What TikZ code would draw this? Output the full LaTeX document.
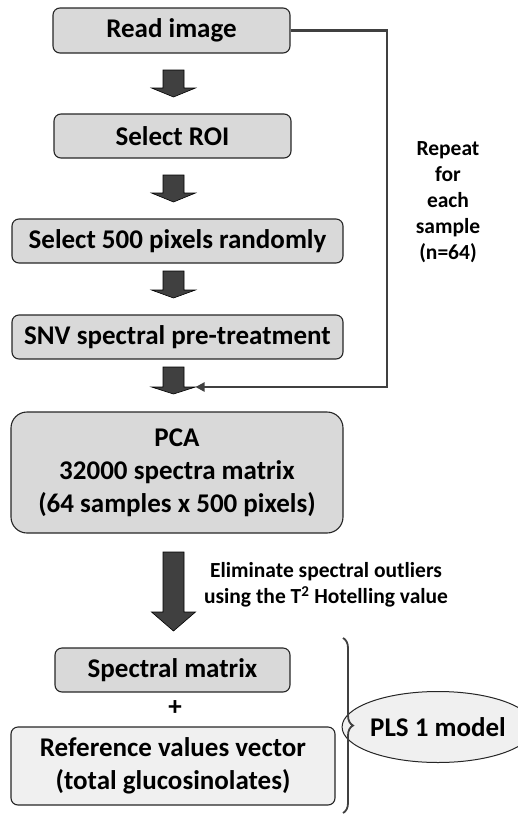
\documentclass[tikz,border=0pt]{standalone}
\usepackage{fontspec}
\setmainfont{Carlito}
\usetikzlibrary{shapes.geometric,decorations.pathreplacing,arrows.meta}
\definecolor{boxgray}{HTML}{D9D9D9}
\definecolor{lightbox}{HTML}{F0F0F0}
\definecolor{arrowgray}{HTML}{404040}
\definecolor{edgegray}{HTML}{262626}
\begin{document}
\begin{tikzpicture}[x=1pt,y=-1pt,
  stepbox/.style={draw=edgegray,line width=1.1pt,fill=boxgray,rounded corners=7pt,
    inner sep=0pt,align=center,font=\fontsize{27}{33}\selectfont\bfseries},
  note/.style={align=center,font=\fontsize{21.5}{26}\selectfont\bfseries},
  blockarrow/.style={fill=arrowgray,draw=black,line width=0.6pt},
  loopline/.style={draw=arrowgray,line width=2.4pt}]
\useasboundingbox (0,0) rectangle (518,815);

% process boxes
\node[stepbox,minimum width=237pt,minimum height=45pt] (read) at (171.5,30.5) {Read image};
\node[stepbox,minimum width=237pt,minimum height=44pt] (roi) at (172.5,136) {Select ROI};
\node[stepbox,minimum width=331pt,minimum height=44pt] (sel) at (177.5,241) {Select 500 pixels randomly};
\node[stepbox,minimum width=331pt,minimum height=44pt] (snv) at (177.5,337) {SNV spectral pre-treatment};
\node[stepbox,rounded corners=16pt,minimum width=332pt,minimum height=121pt] (pca) at (177,472.5)
  {PCA\\32000 spectra matrix\\(64 samples x 500 pixels)};
\node[stepbox,minimum width=235pt,minimum height=44pt] (spec) at (172.5,670) {Spectral matrix};
\node[font=\fontsize{27}{30}\selectfont\bfseries] (plus) at (175,708) {+};
\node[stepbox,fill=lightbox,minimum width=324pt,minimum height=78pt] (ref) at (173,766)
  {Reference values vector\\(total glucosinolates)};
\node[ellipse,draw=edgegray,line width=1pt,fill=lightbox,minimum width=160pt,minimum height=71pt,
  inner sep=0pt,font=\fontsize{27}{30}\selectfont\bfseries] (pls) at (438,727) {PLS 1 model};

% block arrows between steps
\foreach \top/\neck/\tip in {70/88/97, 175/193/202, 271/290/298, 367/387/394, 552/612/631}{
  \draw[blockarrow] (163,\top) -- (184,\top) -- (184,\neck) -- (195.5,\neck) -- (173.5,\tip)
    -- (151.5,\neck) -- (163,\neck) -- cycle;
}
\coordinate (back) at (195.5,387);

% repeat loop
\draw[loopline,-{Triangle[length=9pt,width=9pt]}] (read.east) -- (387,30.5) -- (387,387) -- (back);
\node[note] (rep) at (448,202) {Repeat\\for\\each\\sample\\(n=64)};

% outlier note
\node[note] (elim) at (326,585) {Eliminate spectral outliers\\using the T\textsuperscript{2} Hotelling value};

% brace grouping the model inputs
\draw[draw=arrowgray,line width=1.8pt,decorate,decoration={brace,amplitude=10pt}]
  (343,638) -- (343,813);
\end{tikzpicture}
\end{document}
